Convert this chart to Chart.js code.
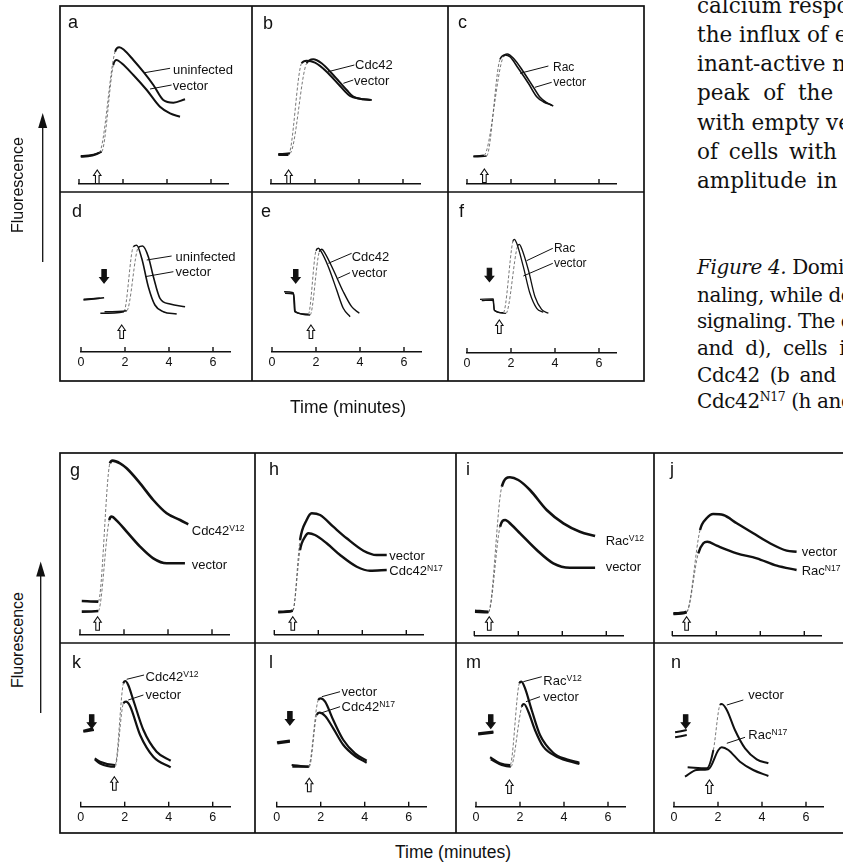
<!DOCTYPE html>
<html>
<head>
<meta charset="utf-8">
<script src="https://cdn.jsdelivr.net/npm/chart.js@4.4.1/dist/chart.umd.min.js"></script>
<style>
  html, body { margin: 0; padding: 0; background: #fff; }
  body { width: 843px; height: 863px; position: relative; overflow: hidden;
         font-family: "Liberation Sans", Arial, sans-serif; color: #111; }
  .t { position: absolute; white-space: nowrap; line-height: 1; }
  .sup { position: relative; top: -0.45em; font-size: 0.66em; }
  .serif { font-family: "DejaVu Serif", serif; font-size: 21.5px; }
  .cap { font-family: "DejaVu Serif", serif; font-size: 20px; letter-spacing: -0.4px; }
  canvas { position: absolute; }
  svg { position: absolute; left: 0; top: 0; }
</style>
</head>
<body>
<svg width="843" height="863">
  <g stroke="#111" stroke-width="1.7" fill="none">
    <rect x="60" y="6" width="584" height="375"/>
    <line x1="252" y1="6" x2="252" y2="381"/>
    <line x1="448" y1="6" x2="448" y2="381"/>
    <line x1="60" y1="192" x2="644" y2="192"/>
    <rect x="60" y="453" width="792" height="380"/>
    <line x1="255" y1="453" x2="255" y2="833"/>
    <line x1="456" y1="453" x2="456" y2="833"/>
    <line x1="654" y1="453" x2="654" y2="833"/>
    <line x1="60" y1="643" x2="852" y2="643"/>
  </g>
  <g stroke="#111" stroke-width="1.3">
    <line x1="42.7" y1="262" x2="42.7" y2="124"/>
    <line x1="40.7" y1="713" x2="40.7" y2="572"/>
  </g>
  <polygon points="42.7,113 38.2,128 47.2,128" fill="#111"/>
  <polygon points="40.7,561.5 36.2,576.5 45.2,576.5" fill="#111"/>
</svg>

<script>
// Valeurs : temps en minutes, fluorescence en unites arbitraires
const timeTicks = [0, 2, 4, 6];

// a
const aUninfected = [[0.08,27.3],[0.92,31.3],[1.64,132.3],[1.83,136.7],[2.05,134],[2.47,124],[2.92,112.3],[3.38,99],[3.83,84],[4.29,81.3],[4.82,84.7]];
const aVector = [[0.08,28],[1.03,32.3],[1.56,119],[1.71,124],[1.94,120.7],[2.47,109],[3.08,94],[3.68,77.3],[4.14,70.7],[4.59,67.3]];
// b
const bCdc42 = [[0.33,30],[0.86,30.7],[1.62,120.7],[1.92,124.7],[2.30,120.7],[2.83,109],[3.44,94],[3.74,87.3],[4.20,84.7],[4.58,84]];
const bVector = [[0.33,29],[0.79,29],[1.39,120.7],[1.62,123.3],[2.0,121.3],[2.53,112.3],[3.14,98],[3.59,88],[4.05,85.3],[4.5,84]];
// c
const cRac = [[0.29,28],[0.77,28.7],[1.65,127.3],[1.83,130],[2.11,125.7],[2.56,112.3],[3.02,96.7],[3.32,86.7],[3.62,81.3],[3.92,78]];
const cVector = [[0.29,27.3],[0.89,28],[1.5,124.7],[1.73,129],[1.95,127.3],[2.33,115.7],[2.79,100.7],[3.17,87.3],[3.47,82.3],[3.85,79]];
// d
const dUninfected = [[0.11,52],[1.05,54.3],[1.06,null],[1.07,40.3],[2.08,41.3],[2.61,104.7],[2.80,106],[3.06,95.3],[3.29,75.3],[3.59,53.7],[4.05,48],[4.73,45.3]];
const dVector = [[0.12,52.7],[0.86,53.7],[0.87,null],[0.88,38.7],[1.95,40.3],[2.38,105.3],[2.53,106.7],[2.76,93.7],[3.06,65.3],[3.36,47],[3.74,40.3],[4.35,38]];
// e
const eCdc42 = [[0.55,60.3],[0.97,59.3],[1.03,40.3],[1.65,37.7],[2.0,101.3],[2.11,103.7],[2.21,101.3],[2.56,85.3],[2.94,62],[3.24,43.7],[3.55,35.3]];
const eVector = [[0.59,58.7],[0.99,58],[1.06,40.3],[1.73,37],[2.15,100.3],[2.26,102.7],[2.41,98.7],[2.79,82],[3.24,60.3],[3.62,45.3],[3.97,38.7]];
// f
const fRac = [[0.59,53.7],[1.2,54],[1.23,43],[1.65,40.3],[2.08,111.3],[2.15,113.7],[2.26,109.7],[2.56,86.3],[2.86,59.7],[3.17,44.7],[3.47,40.7]];
const fVector = [[0.67,52.3],[1.17,53],[1.26,42.3],[1.77,39.7],[2.30,107],[2.38,108.7],[2.48,104.7],[2.79,83],[3.09,56.3],[3.39,43.7],[3.70,39.7]];
// g
const gCdc42V12 = [[0.08,33.3],[0.83,32.7],[1.36,171],[1.48,173.7],[1.82,171],[2.12,166],[2.73,151],[3.33,134.3],[3.94,121],[4.55,114.3],[4.92,110]];
const gVector = [[0.08,22.7],[0.83,23.3],[1.33,114.3],[1.44,117.7],[1.67,113.7],[2.12,102.7],[2.73,87.7],[3.33,76],[3.94,71],[4.77,71]];
// h
const hVector = [[0.18,23.3],[0.84,24.3],[1.17,95],[1.47,115],[1.7,121.7],[2.08,120],[2.68,108.3],[3.29,96.7],[4.05,84.3],[4.65,80],[5.11,80]];
const hCdc42N17 = [[0.18,22.7],[0.84,24.3],[1.17,85],[1.4,98.3],[1.55,101.7],[1.85,100],[2.38,91.7],[2.99,80],[3.75,68.3],[4.35,64.3],[5.11,65]];
// i
const iRacV12 = [[0.03,25.3],[0.64,24.3],[1.25,149.3],[1.62,158.7],[2.0,156],[2.53,146],[3.29,126],[4.05,112.7],[4.8,104.3],[5.49,100]];
const iVector = [[0.03,24.3],[0.64,23.7],[1.17,109.3],[1.4,116],[1.7,111],[2.08,102.7],[2.84,86],[3.59,72.7],[4.35,68.3],[5.49,68.3]];
// j
const jVector = [[0.05,22.7],[0.65,24.3],[1.26,106],[1.56,117.7],[1.86,122],[2.32,121],[2.93,112.7],[3.68,102.7],[4.44,92.7],[5.2,85.3],[5.65,84.3]];
const jRacN17 = [[0.05,22],[0.65,23.7],[1.18,82.7],[1.41,92.7],[1.59,94.3],[2.02,90.3],[2.93,82.7],[3.84,77.7],[4.75,70.3],[5.65,66]];
// k
const kCdc42V12 = [[0.12,76],[0.57,78.3],[0.6,null],[0.64,48.3],[0.88,45],[1.56,41.7],[1.94,123.3],[2.03,125.7],[2.16,121.7],[2.39,106.7],[2.85,76.7],[3.45,55],[4.09,46]];
const kVector = [[0.12,75],[0.6,76.7],[0.62,null],[0.64,47.3],[0.88,43.3],[1.56,40],[1.94,103.3],[2.06,105],[2.24,100.7],[2.7,71.7],[3.3,50],[4.09,39.3]];
// l
const lVector = [[0.0,64.3],[0.6,66],[0.64,null],[0.68,41.7],[1.44,40],[1.89,106.7],[2.0,108.3],[2.2,105],[2.57,86.7],[3.03,66.7],[3.56,53.3],[4.09,46]];
const lCdc42N17 = [[0.03,63.3],[0.6,65],[0.65,null],[0.71,40],[1.48,40],[1.82,91.7],[1.94,94],[2.2,90.7],[2.57,78.3],[3.03,61.7],[3.56,50.7],[4.09,44]];
// m
const mRacV12 = [[0.1,73.3],[0.79,75],[0.7,null],[0.64,49.4],[1.09,43.3],[1.55,41.7],[1.97,123.3],[2.06,125],[2.23,118.3],[2.53,96.7],[2.91,71.7],[3.51,54],[4.12,47.4],[4.7,44]];
const mVector = [[0.1,72.4],[0.79,74],[0.72,null],[0.67,47.4],[1.17,41.7],[1.58,40],[2.08,100],[2.18,102.7],[2.38,95],[2.68,76.7],[3.06,60],[3.67,50],[4.7,42.7]];
// n
const nVector = [[0.05,74.4],[0.58,76.7],[0.6,null],[0.62,39.4],[1.49,38.4],[1.79,56.7],[2.09,101.7],[2.17,102.7],[2.4,96.7],[2.77,76.7],[3.23,58.3],[3.76,47.4],[4.29,43.4]];
const nRacN17 = [[0.05,69.4],[0.58,71.7],[0.55,null],[0.5,30],[1.03,36.7],[1.56,37.4],[2.02,56.7],[2.17,59.4],[2.47,56.7],[3.0,45],[3.6,36.7],[4.29,30.7]];

// fleches : blanche = stimulus (pointe en haut), noire = ajout (pointe en bas)
const upArrowX   = [0.83, 0.80, 0.79, 1.85, 1.77, 1.47, 0.80, 0.84, 0.68, 0.65, 1.53, 1.48, 1.52, 1.61];
const upArrowTip = [14, 14, 15, 27, 27, 33, 17.6, 18.3, 19.3, 19.3, 30, 28.4, 26.7, 26.7];
const downArrowX   = [null, null, null, 1.05, 1.08, 1.02, null, null, null, null, 0.5, 0.6, 0.67, 0.53];
const downArrowTip = [null, null, null, 69, 69, 71.3, null, null, null, null, 78.4, 81.7, 78.4, 78.4];

// etiquettes des courbes : texte, position (min, fluo)
const V12 = 'Cdc42<span class="sup">V12</span>';
const N17 = 'Cdc42<span class="sup">N17</span>';
const RV12 = 'Rac<span class="sup">V12</span>';
const RN17 = 'Rac<span class="sup">N17</span>';
const aLabels = [['uninfected', 4.27, 115], ['vector', 4.26, 99]];
const bLabels = [['Cdc42', 3.82, 120], ['vector', 3.77, 104]];
const cLabels = [['Rac', 3.91, 117.3], ['vector', 3.92, 101.7]];
const dLabels = [['uninfected', 4.30, 96], ['vector', 4.30, 80.3]];
const eLabels = [['Cdc42', 3.62, 95.3], ['vector', 3.62, 79.3]];
const fLabels = [['Rac', 3.95, 104.7], ['vector', 3.95, 89.7]];
const gLabels = [[V12, 5.08, 103.6], ['vector', 5.08, 70.3]];
const hLabels = [['vector', 5.23, 80], [N17, 5.23, 64.3]];
const iLabels = [[RV12, 5.97, 95.3], ['vector', 5.97, 69.3]];
const jLabels = [['vector', 5.88, 84.3], [RN17, 5.88, 65.3]];
const kLabels = [[V12, 2.95, 130], ['vector', 2.95, 112.7]];
const lLabels = [['vector', 2.95, 115], [N17, 2.95, 100]];
const mLabels = [[RV12, 3.06, 126.7], ['vector', 3.06, 110.7]];
const nLabels = [['vector', 3.38, 112.4], [RN17, 3.38, 72.4]];

// traits de rappel [x1, y1, x2, y2]
const aLeaders = [[2.98,111.3,4.14,115.7],[3.23,95,4.21,99]];
const bLeaders = [[2.60,112.3,3.79,119],[3.29,100.7,3.74,104]];
const cLeaders = [[2.41,110.7,3.70,118],[3.09,96.7,3.85,101.7]];
const dLeaders = [[2.99,92,4.12,96],[2.91,75.3,4.20,80.3]];
const eLeaders = [[2.56,88.7,3.62,98.7],[2.99,73.7,3.55,79.3]];
const fLeaders = [[2.71,92.3,3.90,104.7],[2.56,77,3.90,89.7]];
const kLeaders = [[2.09,127.4,2.88,131.7],[2.16,106.7,2.85,111.7]];
const lLeaders = [[2.05,110,2.88,115],[1.97,93.4,2.88,100]];
const mLeaders = [[2.15,125,2.99,130],[2.27,105,2.91,110]];
const nLeaders = [[2.40,101.7,3.15,106.7],[2.40,63.4,3.23,69.4]];

const minPx = 22;     // pixels par minute
const tMax = 6.8;

// cadre de chaque panneau : left, top, w, h, x0 (t=0), axisY
const panels = [
  { id: 'a', left: 60,  top: 6,   w: 192, h: 186, x0: 79,    axisY: 184,   ticks: false, lw: 2.0, series: [aUninfected, aVector],   labels: aLabels, leaders: aLeaders, letter: [68, 28.3] },
  { id: 'b', left: 252, top: 6,   w: 196, h: 186, x0: 271,   axisY: 184,   ticks: false, lw: 2.0, series: [bCdc42, bVector],        labels: bLabels, leaders: bLeaders, letter: [263, 29] },
  { id: 'c', left: 448, top: 6,   w: 196, h: 186, x0: 467,   axisY: 184,   ticks: false, lw: 1.6, series: [cRac, cVector],          labels: cLabels, leaders: cLeaders, letter: [458, 28.3], small: true },
  { id: 'd', left: 60,  top: 192, w: 192, h: 189, x0: 81,    axisY: 352,   ticks: true,  lw: 1.6, series: [dUninfected, dVector],   labels: dLabels, leaders: dLeaders, letter: [72, 216.7] },
  { id: 'e', left: 252, top: 192, w: 196, h: 189, x0: 272,   axisY: 352,   ticks: true,  lw: 1.4, series: [eCdc42, eVector],        labels: eLabels, leaders: eLeaders, letter: [261, 216.7] },
  { id: 'f', left: 448, top: 192, w: 196, h: 189, x0: 467,   axisY: 353,   ticks: true,  lw: 1.3, series: [fRac, fVector],          labels: fLabels, leaders: fLeaders, letter: [459, 216.7], small: true },
  { id: 'g', left: 60,  top: 453, w: 195, h: 190, x0: 80,    axisY: 634.3, ticks: false, lw: 2.6, series: [gCdc42V12, gVector],     labels: gLabels, leaders: [],       letter: [70, 476] },
  { id: 'h', left: 255, top: 453, w: 201, h: 190, x0: 274.3, axisY: 635,   ticks: false, lw: 2.4, series: [hVector, hCdc42N17],     labels: hLabels, leaders: [],       letter: [269, 475] },
  { id: 'i', left: 456, top: 453, w: 198, h: 190, x0: 474.3, axisY: 636,   ticks: false, lw: 2.6, series: [iRacV12, iVector],       labels: iLabels, leaders: [],       letter: [466, 475] },
  { id: 'j', left: 654, top: 453, w: 198, h: 190, x0: 672.3, axisY: 636,   ticks: false, lw: 2.4, series: [jVector, jRacN17],       labels: jLabels, leaders: [],       letter: [670, 475] },
  { id: 'k', left: 60,  top: 643, w: 195, h: 190, x0: 80.7,  axisY: 806.7, ticks: true,  lw: 2.2, series: [kCdc42V12, kVector],     labels: kLabels, leaders: kLeaders, letter: [72, 668.3] },
  { id: 'l', left: 255, top: 643, w: 201, h: 190, x0: 276.7, axisY: 806.7, ticks: true,  lw: 2.2, series: [lVector, lCdc42N17],     labels: lLabels, leaders: lLeaders, letter: [269, 668] },
  { id: 'm', left: 456, top: 643, w: 198, h: 190, x0: 476,   axisY: 806.7, ticks: true,  lw: 2.2, series: [mRacV12, mVector],       labels: mLabels, leaders: mLeaders, letter: [466, 668.3] },
  { id: 'n', left: 654, top: 643, w: 198, h: 190, x0: 674,   axisY: 806.7, ticks: true,  lw: 2.0, series: [nVector, nRacN17],       labels: nLabels, leaders: nLeaders, letter: [671, 668.3] }
];

function addText(html, x, top, size, cls) {
  const d = document.createElement('div');
  d.className = 't' + (cls ? ' ' + cls : '');
  d.innerHTML = html;
  d.style.left = x + 'px';
  d.style.top = top + 'px';
  if (size) d.style.fontSize = size + 'px';
  document.body.appendChild(d);
  return d;
}

// fleche pleine ou creuse, pointe en (x, tip)
function drawArrow(ctx, x, tip, up, filled) {
  const L = 13.5, hl = 5.5;
  const hw = filled ? 4.3 : 3.7;
  const sw = filled ? 2.2 : 1.8;
  const s = up ? 1 : -1;
  ctx.beginPath();
  ctx.moveTo(x, tip);
  ctx.lineTo(x + hw, tip + s * hl);
  ctx.lineTo(x + sw, tip + s * hl);
  ctx.lineTo(x + sw, tip + s * L);
  ctx.lineTo(x - sw, tip + s * L);
  ctx.lineTo(x - sw, tip + s * hl);
  ctx.lineTo(x - hw, tip + s * hl);
  ctx.closePath();
  ctx.fillStyle = filled ? '#111' : '#fff';
  ctx.fill();
  ctx.lineWidth = 1.1;
  ctx.strokeStyle = '#111';
  ctx.stroke();
}

// segments de montee rapide : trait fin pointille comme sur l'enregistrement
function isRise(ctx) {
  const dx = Math.abs(ctx.p1.x - ctx.p0.x);
  const dy = ctx.p0.y - ctx.p1.y;
  return dy > 25 && dy > 3 * dx;
}

panels.forEach((p, idx) => {
  const cv = document.createElement('canvas');
  cv.width = p.w; cv.height = p.h;
  cv.style.left = p.left + 'px'; cv.style.top = p.top + 'px';
  cv.style.width = p.w + 'px'; cv.style.height = p.h + 'px';
  document.body.appendChild(cv);

  const padL = p.x0 - p.left;
  const padR = p.w - padL - tMax * minPx;
  const axisOff = p.axisY - p.top;

  const marks = {
    id: 'marks' + p.id,
    afterDatasetsDraw(chart) {
      const { ctx, scales: { x, y } } = chart;
      const base = y.getPixelForValue(0);
      ctx.save();
      // petites graduations vers le haut
      ctx.strokeStyle = '#111';
      ctx.lineWidth = 1.4;
      x.ticks.forEach(t => {
        const px = x.getPixelForValue(t.value);
        ctx.beginPath();
        ctx.moveTo(px, base);
        ctx.lineTo(px, base - 5);
        ctx.stroke();
      });
      ctx.lineWidth = 1;
      p.leaders.forEach(l => {
        ctx.beginPath();
        ctx.moveTo(x.getPixelForValue(l[0]), y.getPixelForValue(l[1]));
        ctx.lineTo(x.getPixelForValue(l[2]), y.getPixelForValue(l[3]));
        ctx.stroke();
      });
      drawArrow(ctx, x.getPixelForValue(upArrowX[idx]), y.getPixelForValue(upArrowTip[idx]), true, false);
      if (downArrowX[idx] !== null) {
        drawArrow(ctx, x.getPixelForValue(downArrowX[idx]), y.getPixelForValue(downArrowTip[idx]), false, true);
      }
      ctx.restore();
    }
  };

  const chart = new Chart(cv, {
    type: 'line',
    data: {
      datasets: p.series.map(s => ({
        data: s.map(pt => ({ x: pt[0], y: pt[1] })),
        borderColor: '#111',
        borderWidth: p.lw,
        pointRadius: 0,
        cubicInterpolationMode: 'monotone',
        spanGaps: false,
        segment: {
          borderWidth: ctx => isRise(ctx) ? 0.8 : p.lw,
          borderDash: ctx => isRise(ctx) ? [3, 2] : [],
          borderColor: ctx => isRise(ctx) ? '#555' : '#111'
        }
      }))
    },
    options: {
      responsive: false,
      animation: false,
      events: [],
      layout: { padding: { left: padL, right: padR, top: 0, bottom: 0 } },
      plugins: { legend: { display: false }, tooltip: { enabled: false } },
      scales: {
        x: {
          type: 'linear', min: 0, max: tMax,
          afterFit: scale => { scale.height = p.h - axisOff; },
          border: { display: true, color: '#111', width: 1.5 },
          grid: { display: false, drawTicks: false },
          ticks: {
            display: p.ticks, stepSize: 2, includeBounds: false, autoSkip: false,
            maxRotation: 0, padding: 3, color: '#111',
            font: { family: '"Liberation Sans", Arial, sans-serif', size: 12.5 },
            callback: v => timeTicks.includes(v) ? String(v) : ''
          }
        },
        y: { display: false, min: 0, max: axisOff }
      }
    },
    plugins: [marks]
  });

  // etiquettes des courbes, placees via les echelles
  const fs = p.small ? 12 : 13;
  p.labels.forEach(l => {
    addText(l[0], p.left + chart.scales.x.getPixelForValue(l[1]),
            p.top + chart.scales.y.getPixelForValue(l[2]) - fs / 2, fs);
  });
  // lettre du panneau
  addText(p.id, p.letter[0], p.letter[1] - 15.2, 18);
});

// titres d'axes
const fl1 = addText('Fluorescence', 18.3, 185, 16);
fl1.style.transform = 'translate(-50%, -50%) rotate(-90deg)';
const fl2 = addText('Fluorescence', 18.3, 640, 16);
fl2.style.transform = 'translate(-50%, -50%) rotate(-90deg)';
addText('Time (minutes)', 290, 414 - 14.8, 17.5);
addText('Time (minutes)', 395, 859 - 14.8, 17.5);

// texte courant a droite de la figure (coupe par le bord)
const bodyLines = [
  ['calcium response was', 12.7, 0],
  ['the influx of extracellular', 42, 0],
  ['inant-active mutants', 71.3, 0],
  ['peak of the calcium', 100.6, 7],
  ['with empty vector', 129.9, 0],
  ['of cells with dominant', 159.2, 4],
  ['amplitude in the', 188.5, 3]
];
bodyLines.forEach(l => {
  const d = addText(l[0], 697, l[1] - 18.2, null, 'serif');
  d.style.wordSpacing = l[2] + 'px';
});

// legende de la figure
const captionLines = [
  ['<i>Figure 4.</i> Dominant', 274, 0],
  ['naling, while dominant', 301.7, 0],
  ['signaling. The calcium', 328.3, 0],
  ['and d), cells infected', 355, 6],
  ['Cdc42 (b and e)', 381.7, 4],
  ['Cdc42<span style="font-size:0.62em;position:relative;top:-0.6em">N17</span> (h and', 408.3, 0]
];
captionLines.forEach(l => {
  const d = addText(l[0], 697, l[1] - 16.9, null, 'cap');
  d.style.wordSpacing = l[2] + 'px';
});
</script>
</body>
</html>
